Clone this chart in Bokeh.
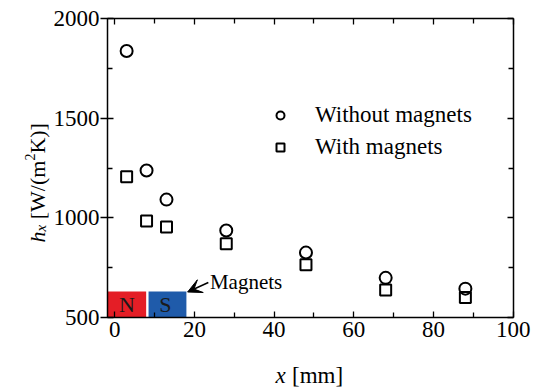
import math
from bokeh.plotting import figure
from bokeh.models import (Range1d, FixedTicker, LinearAxis, Label, Arrow, VeeHead,
                          Legend, LegendItem, ColumnDataSource)
from bokeh.core.properties import value
from bokeh.embed import file_html
from bokeh.resources import INLINE

# ---- data ----
x_mm = [3, 8, 13, 28, 48, 68, 88]
h_without = [1838, 1238, 1092, 937, 826, 699, 645]
h_with = [1207, 984, 955, 870, 765, 638, 601]

series_names = ["Without magnets", "With magnets"]

x_lim = (-1.8, 100)
y_lim = (500, 2000)
x_major = [0, 20, 40, 60, 80, 100]
x_minor = [10, 30, 50, 70, 90]
y_major = [500, 1000, 1500, 2000]
y_minor = [750, 1250, 1750]

magnet_poles = ["N", "S"]
magnet_left = [-1.8, 8.5]
magnet_right = [7.9, 18.0]
magnet_bottom = [500, 500]
magnet_top = [630, 630]
magnet_colors = ["#E41E26", "#1F5BAA"]
magnet_label_x = [3.1, 12.7]
magnet_label_y = [565, 565]

arrow_tail = (23.5, 676)
arrow_head = (18.3, 628)
magnets_text = "Magnets"

FONT = "Liberation Serif"
W, H = 536, 390
# frame placement on the canvas (pixels)
FL, FR, FT, FB = 107.0, 512.7, 18.3, 317.0
sx = (FR - FL) / (x_lim[1] - x_lim[0])
sy = (FB - FT) / (y_lim[1] - y_lim[0])
xr = Range1d(x_lim[0] - FL / sx, x_lim[1] + (W - FR) / sx)
yr = Range1d(y_lim[0] - (H - FB) / sy, y_lim[1] + FT / sy)

p = figure(width=W, height=H, output_backend="svg", toolbar_location=None,
           x_range=xr, y_range=yr, x_axis_type=None, y_axis_type=None,
           min_border=0)
p.background_fill_color = "white"
p.border_fill_color = "white"
p.outline_line_color = None


def make_axis(loc, bounds, major, minor, labels=True):
    ax = LinearAxis(fixed_location=loc, bounds=bounds)
    ax.ticker = FixedTicker(ticks=major, minor_ticks=minor)
    ax.axis_line_color = "black"
    ax.axis_line_width = 1.5
    ax.major_tick_in = 6
    ax.major_tick_out = 0
    ax.minor_tick_in = 5
    ax.minor_tick_out = 0
    ax.major_tick_line_color = "black"
    ax.minor_tick_line_color = "black"
    ax.major_tick_line_width = 1.3
    ax.minor_tick_line_width = 1.3
    ax.major_label_text_font = FONT
    ax.major_label_text_color = "black"
    ax.major_label_text_font_size = "23px"
    if not labels:
        ax.major_label_overrides = {t: "" for t in major}
    return ax


xb = make_axis(y_lim[0], x_lim, x_major, x_minor)
xb.major_label_standoff = 4
p.add_layout(xb, "below")
yl = make_axis(x_lim[0], y_lim, y_major, y_minor)
yl.major_tick_out = 7
yl.major_label_standoff = 1
p.add_layout(yl, "left")
p.add_layout(make_axis(y_lim[1], x_lim, x_major, x_minor, labels=False), "above")
p.add_layout(make_axis(x_lim[1], y_lim, y_major, y_minor, labels=False), "right")

# magnets
msrc = ColumnDataSource(dict(left=magnet_left, right=magnet_right, bottom=magnet_bottom,
                             top=magnet_top, color=magnet_colors, lx=magnet_label_x,
                             ly=magnet_label_y, t=magnet_poles))
p.quad(left="left", right="right", bottom="bottom", top="top", fill_color="color",
       line_color=None, source=msrc)
p.text(x="lx", y="ly", text="t", source=msrc, text_font=value(FONT), text_font_size="22px",
       text_align="center", text_baseline="middle", text_color="#1a1a1a")

p.add_layout(Arrow(end=VeeHead(size=14, fill_color="black", line_color="black"),
                   x_start=arrow_tail[0], y_start=arrow_tail[1],
                   x_end=arrow_head[0], y_end=arrow_head[1],
                   line_width=1.5, line_color="black"))
p.text(x=[arrow_tail[0] + 0.4], y=[arrow_tail[1]], text=[magnets_text], text_font=value(FONT),
       text_font_size="21px", text_align="left", text_baseline="middle", text_color="black")

# data
r1 = p.scatter(x_mm, h_without, marker="circle", size=12, fill_color=None,
               line_color="black", line_width=2)
r2 = p.scatter(x_mm, h_with, marker="square", size=11, fill_color=None,
               line_color="black", line_width=2)

legend = Legend(items=[LegendItem(label=series_names[0], renderers=[r1]),
                       LegendItem(label=series_names[1], renderers=[r2])],
                location=(270, H - 163), glyph_width=20, glyph_height=32, label_height=32,
                label_standoff=25, spacing=0, padding=0, margin=0,
                border_line_color=None, background_fill_alpha=0,
                label_text_font=FONT, label_text_font_size="23px",
                label_text_color="black")
p.add_layout(legend)


# axis titles (composed for italics / sub- and superscripts); screen px from bottom-left
def lab(text, x, y, size="23px", style="normal", angle=0.0):
    p.add_layout(Label(text=text, x=x, y=H - y, x_units="screen", y_units="screen",
                       text_font=FONT, text_font_size=size, text_font_style=style,
                       text_align="left", text_baseline="alphabetic", angle=angle,
                       text_color="black"))


lab("x", 275, 375, style="italic")
lab("[mm]", 291.5, 375)

a = math.pi / 2
lab("h", 37, 242, size="22px", style="italic", angle=a)
lab("x", 40.5, 231, size="15px", style="italic", angle=a)
lab("[W/(m", 37, 218.8, size="22px", angle=a)
lab("2", 29.5, 160.1, size="14px", angle=a)
lab("K)]", 37, 153.1, size="22px", angle=a)

open("out.html", "w").write(file_html(p, INLINE))
